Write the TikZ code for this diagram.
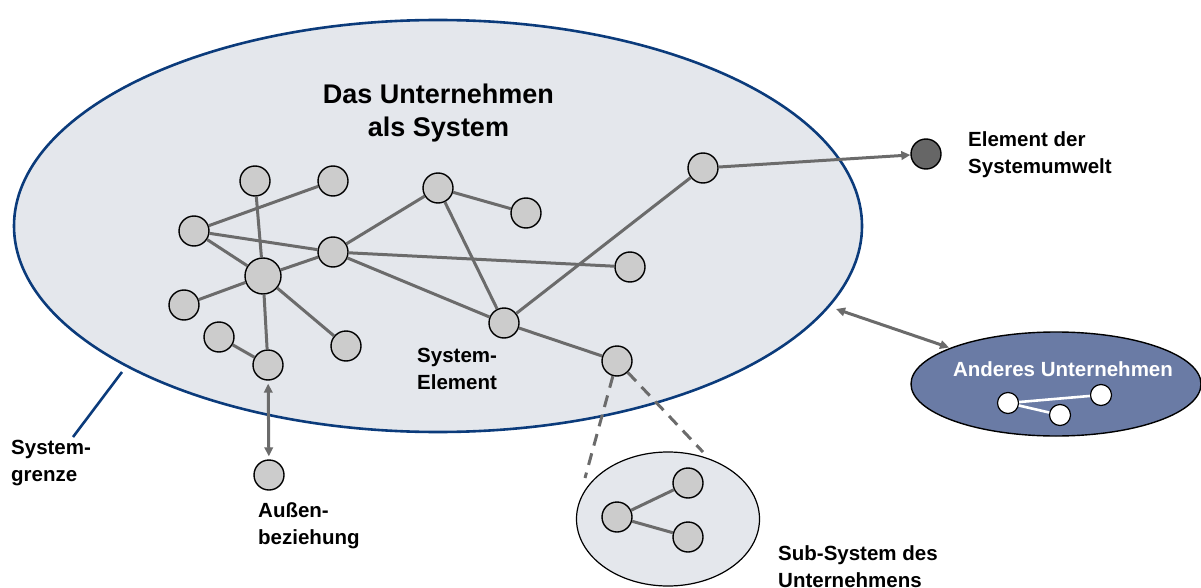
\documentclass[tikz,border=0pt]{standalone}
\usepackage{fontspec}
\setmainfont{Liberation Sans}
\usetikzlibrary{shapes.geometric,arrows.meta}
\definecolor{sysfill}{HTML}{E4E7EC}
\definecolor{sysline}{HTML}{0B3B7B}
\definecolor{edgegray}{HTML}{6B6B6B}
\definecolor{elemfill}{HTML}{CCCCCC}
\definecolor{envfill}{HTML}{666666}
\definecolor{otherfill}{HTML}{6A7BA5}
\begin{document}
\begin{tikzpicture}[x=1pt,y=-1pt,
  elem/.style={circle,draw=black,line width=1.4pt,fill=elemfill,minimum size=30pt,inner sep=0pt},
  bigelem/.style={elem,minimum size=36pt},
  whiteelem/.style={circle,draw=black,line width=1.2pt,fill=white,minimum size=21pt,inner sep=0pt},
  link/.style={draw=edgegray,line width=3pt},
  tip/.tip={Triangle[length=9pt,width=8.5pt]},
  oneway/.style={link,-tip},
  twoway/.style={link,tip-tip},
  dashlink/.style={link,dash pattern=on 12pt off 8pt},
  label/.style={font=\bfseries\fontsize{20.5}{27}\selectfont,align=left,anchor=north west,inner sep=0pt},
]
\useasboundingbox (0,0) rectangle (1201,588);

% the enterprise as a system
\node[ellipse,draw=sysline,line width=2.6pt,fill=sysfill,minimum width=848pt,minimum height=412pt,inner sep=0pt] (sys) at (438,226) {};
\node[font=\bfseries\fontsize{27}{33}\selectfont,align=center,anchor=north,inner sep=0pt] (title) at (438.5,84) {Das Unternehmen\\als System};

% other enterprise
\node[ellipse,draw=black,line width=1.4pt,fill=otherfill,minimum width=290pt,minimum height=104pt,inner sep=0pt] (other) at (1056,384) {};
\node[font=\bfseries\fontsize{20.5}{25}\selectfont,text=white,inner sep=0pt] (othertxt) at (1063,369) {Anderes Unternehmen};

% sub-system
\node[ellipse,draw=black,line width=1.2pt,fill=sysfill,minimum width=183pt,minimum height=134pt,inner sep=0pt] (sub) at (668,519) {};

% elements
\node[elem] (a) at (255,181) {};
\node[elem] (b) at (333,181) {};
\node[elem] (c) at (194,231) {};
\node[elem] (d) at (333,252) {};
\node[bigelem] (e) at (263,276) {};
\node[elem] (f) at (184,305) {};
\node[elem] (g) at (219,337) {};
\node[elem] (h) at (268,365) {};
\node[elem] (i) at (346,346) {};
\node[elem] (j) at (438,188) {};
\node[elem] (k) at (526,213) {};
\node[elem] (l) at (703,168) {};
\node[elem] (m) at (630,267) {};
\node[elem] (n) at (504,323) {};
\node[elem] (o) at (617,361) {};
\node[elem] (ext) at (269,475) {};
\node[elem,fill=envfill] (env) at (926,154) {};

\node[elem] (s1) at (617,517) {};
\node[elem] (s2) at (688,483) {};
\node[elem] (s3) at (688,537) {};

\node[whiteelem] (w1) at (1008,403) {};
\node[whiteelem] (w2) at (1101,395) {};
\node[whiteelem] (w3) at (1060,415) {};

% links between elements
\foreach \p/\q in {c/b,c/d,c/e,a/e,e/d,e/f,e/i,e/h,g/h,d/j,d/m,d/n,j/k,j/n,n/l,n/o,s1/s2,s1/s3}
  \draw[link] (\p) -- (\q);
\draw[draw=white,line width=2.6pt] (w1) -- (w2);
\draw[draw=white,line width=2.6pt] (w1) -- (w3);

% relations across the boundary
\draw[oneway] (l) -- (env);
\draw[twoway,shorten <=3pt,shorten >=3pt] (h) -- (ext);
\coordinate (sysr) at (836,309);
\draw[twoway,shorten >=1pt] (sysr) -- (other);

% zoom into the sub-system
\coordinate (subl) at (585,478);
\coordinate (subr) at (703,452);
\draw[dashlink] (o) -- (subl);
\draw[dashlink] (o) -- (subr);

% system boundary pointer
\coordinate (gb) at (122,372);
\coordinate (gt) at (73,437);
\draw[draw=sysline,line width=2.6pt] (gb) -- (gt);

% labels
\node[label] (lenv) at (968,131) {Element der\\Systemumwelt};
\node[label] (lelem) at (417,348) {System-\\Element};
\node[label] (lext) at (258,502) {Außen-\\beziehung};
\node[label] (lgrenze) at (11,440) {System-\\grenze};
\node[label] (lsub) at (778,545) {Sub-System des\\Unternehmens};
\end{tikzpicture}
\end{document}
